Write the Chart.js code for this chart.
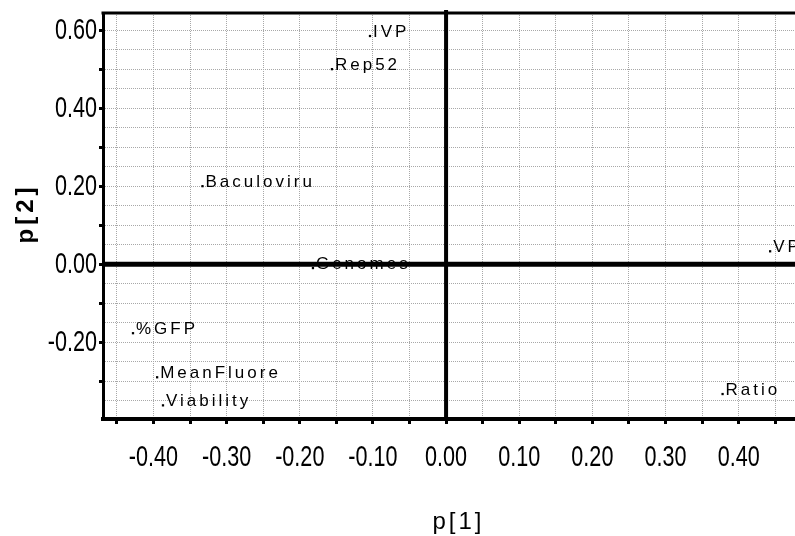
<!DOCTYPE html>
<html>
<head>
<meta charset="utf-8">
<script src="https://cdn.jsdelivr.net/npm/chart.js@4/dist/chart.umd.min.js"></script>
<style>
  html, body { margin: 0; padding: 0; background: #fff; overflow: hidden; }
  #plot { display: block; }
</style>
</head>
<body>
<canvas id="plot" width="795" height="536"></canvas>
<script>
/* loadings p[1] / p[2] */
const variables = ["IVP", "Rep52", "Baculoviru", "Genomes", "VP", "%GFP", "MeanFluore", "Viability", "Ratio"];
const p1 = [-0.104, -0.156, -0.333, -0.182, 0.443, -0.428, -0.395, -0.387, 0.378];
const p2 = [0.585, 0.50, 0.20, -0.01, 0.033, -0.177, -0.29, -0.362, -0.333];

const xRange = [-0.469, 0.477];
const yRange = [-0.397, 0.644];
const xLabelStep = 0.1;
const yLabelStep = 0.2;

// tick numbers are drawn condensed (no narrow font installed)
const tickFont = "30px 'Liberation Sans', Arial, sans-serif";
const tickSqueeze = 0.72;

function onStep(v, step) {
  const k = v / step;
  return Math.abs(k - Math.round(k)) < 1e-6;
}

const puntos = p1.map((x, i) => ({ x: x, y: p2[i] }));

function drawSqueezed(ctx, text, x, y, align) {
  ctx.save();
  ctx.translate(x, y);
  ctx.scale(tickSqueeze, 1);
  ctx.textAlign = align;
  ctx.fillText(text, 0, 0);
  ctx.restore();
}

/* =========================
   EIXOS ZERO, MOLDURA, RÓTULOS
========================= */
const loadingsPlugin = {
  id: "loadings",
  beforeDatasetsDraw(chart) {
    const { ctx, chartArea: a, scales } = chart;
    const x0 = scales.x.getPixelForValue(0);
    const y0 = scales.y.getPixelForValue(0);
    ctx.save();
    ctx.strokeStyle = "#000";
    ctx.lineWidth = 4;
    ctx.beginPath();
    ctx.moveTo(x0, a.top - 3);
    ctx.lineTo(x0, a.bottom);
    ctx.stroke();
    ctx.lineWidth = 5;
    ctx.beginPath();
    ctx.moveTo(a.left, y0);
    ctx.lineTo(a.right, y0);
    ctx.stroke();
    ctx.lineWidth = 3;
    ctx.beginPath();
    ctx.moveTo(a.left - 1.5, a.top);
    ctx.lineTo(a.right, a.top);
    ctx.stroke();
    ctx.restore();
  },
  afterDatasetsDraw(chart) {
    const { ctx } = chart;
    const meta = chart.getDatasetMeta(0);
    ctx.save();
    ctx.fillStyle = "#000";
    ctx.font = "17px 'Liberation Sans', Arial, sans-serif";
    ctx.letterSpacing = "3px";
    ctx.textBaseline = "alphabetic";
    ctx.textAlign = "left";
    meta.data.forEach((pt, i) => {
      ctx.fillText(variables[i], pt.x + 3, pt.y + 1);
    });
    ctx.restore();
  },
  afterDraw(chart) {
    const { ctx, scales } = chart;
    ctx.save();
    ctx.fillStyle = "#000";
    ctx.font = tickFont;
    ctx.textBaseline = "middle";
    scales.x.ticks.forEach(t => {
      if (!t.label) return;
      drawSqueezed(ctx, t.label, scales.x.getPixelForValue(t.value), 458, "center");
    });
    scales.y.ticks.forEach(t => {
      if (!t.label) return;
      drawSqueezed(ctx, t.label, 97, scales.y.getPixelForValue(t.value) + 1, "right");
    });
    ctx.restore();

    ctx.save();
    ctx.fillStyle = "#000";
    ctx.letterSpacing = "3px";
    ctx.textAlign = "center";
    ctx.textBaseline = "alphabetic";
    ctx.font = "24px 'Liberation Sans', Arial, sans-serif";
    ctx.fillText("p[1]", scales.x.getPixelForValue(0.017), 529);
    ctx.translate(33, scales.y.getPixelForValue(0.13));
    ctx.rotate(-Math.PI / 2);
    ctx.letterSpacing = "4px";
    ctx.font = "bold 24px 'Liberation Sans', Arial, sans-serif";
    ctx.fillText("p[2]", 0, 0);
    ctx.restore();
  }
};

function gridColor(c) {
  const v = c.tick ? c.tick.value : NaN;
  if (!onStep(v, 0.05) || Math.abs(v) < 1e-6) return "rgba(0,0,0,0)";
  return "#a8a8a8";
}

new Chart(document.getElementById("plot"), {
  type: "scatter",
  data: {
    datasets: [{
      data: puntos,
      pointStyle: "rect",
      pointRadius: 1.6,
      backgroundColor: "#000",
      borderColor: "#000",
      borderWidth: 0
    }]
  },
  options: {
    responsive: false,
    animation: false,
    devicePixelRatio: 1,
    layout: { autoPadding: false, padding: { top: 13, right: 0, left: 0, bottom: 0 } },
    plugins: { legend: { display: false }, tooltip: { enabled: false } },
    scales: {
      x: {
        type: "linear",
        min: xRange[0],
        max: xRange[1],
        afterFit: s => { s.height = 117; s.paddingLeft = 0; s.paddingRight = 0; },
        border: { display: true, color: "#000", width: 4, dash: [1, 1] },
        grid: {
          color: gridColor,
          lineWidth: 1,
          tickLength: 5,
          tickWidth: 3,
          tickColor: c => onStep(c.tick.value, 0.05) ? "#000" : "rgba(0,0,0,0)"
        },
        ticks: {
          stepSize: 0.05,
          includeBounds: false,
          autoSkip: false,
          maxRotation: 0,
          color: "rgba(0,0,0,0)",
          callback: v => (onStep(v, xLabelStep) && Math.abs(v) <= 0.4001) ? v.toFixed(2) : ""
        }
      },
      y: {
        type: "linear",
        min: yRange[0],
        max: yRange[1],
        afterFit: s => { s.width = 103; s.paddingTop = 0; s.paddingBottom = 0; },
        border: { display: true, color: "#000", width: 3, dash: [1, 1] },
        grid: {
          color: gridColor,
          lineWidth: 1,
          tickLength: 4,
          tickWidth: 3,
          tickColor: c => onStep(c.tick.value, 0.1) ? "#000" : "rgba(0,0,0,0)"
        },
        ticks: {
          stepSize: 0.05,
          includeBounds: false,
          autoSkip: false,
          color: "rgba(0,0,0,0)",
          callback: v => onStep(v, yLabelStep) ? v.toFixed(2) : ""
        }
      }
    }
  },
  plugins: [loadingsPlugin]
});
</script>
</body>
</html>
